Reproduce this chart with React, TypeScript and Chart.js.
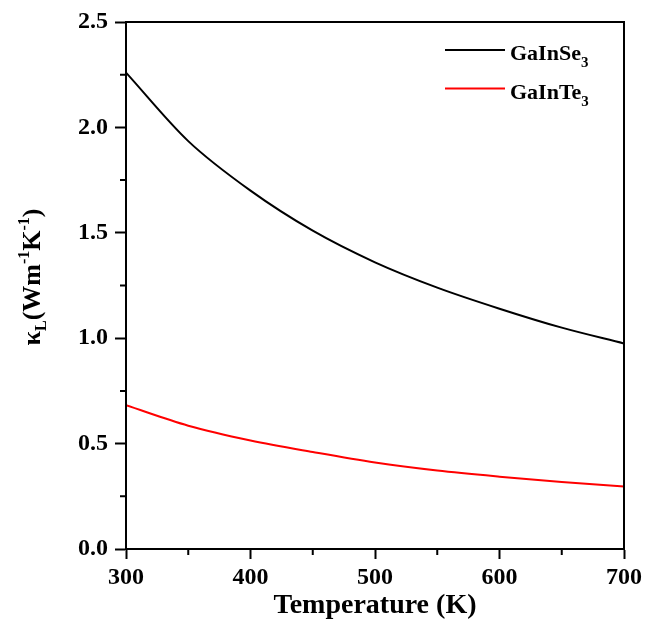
import React, { useEffect, useRef } from "react";
import { Chart, registerables } from "chart.js";

Chart.register(...registerables);

const temperatures = [300, 350, 400, 450, 500, 550, 600, 650, 700];
const kappaSe = [2.26, 1.935, 1.70, 1.51, 1.36, 1.24, 1.14, 1.05, 0.975];
const kappaTe = [0.682, 0.585, 0.515, 0.46, 0.41, 0.372, 0.343, 0.318, 0.297];
const xMinorTicks = [350, 450, 550, 650];
const yMinorTicks = [0.25, 0.75, 1.25, 1.75, 2.25];
const legendNames = ["GaInSe", "GaInTe"];
const legendColors = ["#000000", "#ff0000"];

const SERIF = "'Liberation Serif', 'Times New Roman', serif";

type Part = { t: string; size: number; dy: number };

// draws text pieces with baseline shifts (sub/superscripts) starting at x
function drawRich(ctx: CanvasRenderingContext2D, parts: Part[], x: number, y: number) {
  let cx = x;
  for (const p of parts) {
    ctx.font = `bold ${p.size}px ${SERIF}`;
    ctx.fillText(p.t, cx, y + p.dy);
    cx += ctx.measureText(p.t).width;
  }
  return cx - x;
}
function measureRich(ctx: CanvasRenderingContext2D, parts: Part[]) {
  let w = 0;
  for (const p of parts) {
    ctx.font = `bold ${p.size}px ${SERIF}`;
    w += ctx.measureText(p.t).width;
  }
  return w;
}

const decorPlugin = {
  id: "decor",
  afterDraw(chart: any) {
    const { ctx, chartArea } = chart;
    const xs = chart.scales.x;
    const ys = chart.scales.y;
    ctx.save();
    ctx.strokeStyle = "#000";
    ctx.lineWidth = 2;
    ctx.strokeRect(chartArea.left, chartArea.top, chartArea.right - chartArea.left, chartArea.bottom - chartArea.top);

    // minor ticks
    ctx.beginPath();
    for (const v of xMinorTicks) {
      const px = xs.getPixelForValue(v);
      ctx.moveTo(px, chartArea.bottom);
      ctx.lineTo(px, chartArea.bottom + 6);
    }
    for (const v of yMinorTicks) {
      const py = ys.getPixelForValue(v);
      ctx.moveTo(chartArea.left, py);
      ctx.lineTo(chartArea.left - 6, py);
    }
    ctx.stroke();

    ctx.fillStyle = "#000";
    ctx.textBaseline = "alphabetic";
    ctx.textAlign = "left";

    // legend
    legendNames.forEach((name, i) => {
      const ly = 50 + i * 38.5;
      ctx.strokeStyle = legendColors[i];
      ctx.lineWidth = 2;
      ctx.beginPath();
      ctx.moveTo(445, ly);
      ctx.lineTo(505, ly);
      ctx.stroke();
      drawRich(
        ctx,
        [
          { t: name, size: 22, dy: 0 },
          { t: "3", size: 15, dy: 7 },
        ],
        510,
        ly + 10
      );
    });

    // x axis title
    ctx.font = `bold 28px ${SERIF}`;
    ctx.textAlign = "center";
    ctx.fillText("Temperature (K)", (chartArea.left + chartArea.right) / 2, 613);

    // y axis title
    const parts: Part[] = [
      { t: "\u03ba", size: 26, dy: 0 },
      { t: "L", size: 16, dy: 6 },
      { t: "(Wm", size: 26, dy: 0 },
      { t: "-1", size: 16, dy: -11 },
      { t: "K", size: 26, dy: 0 },
      { t: "-1", size: 16, dy: -11 },
      { t: ")", size: 26, dy: 0 },
    ];
    ctx.textAlign = "left";
    const w = measureRich(ctx, parts);
    ctx.translate(40, 277);
    ctx.rotate(-Math.PI / 2);
    drawRich(ctx, parts, -w / 2, 0);
    ctx.restore();
  },
};

export default function App() {
  const ref = useRef<HTMLCanvasElement>(null);
  useEffect(() => {
    if (!ref.current) return;
    const chart = new Chart(ref.current, {
      type: "line",
      data: {
        labels: temperatures,
        datasets: [
          {
            label: "GaInSe3",
            data: temperatures.map((t, i) => ({ x: t, y: kappaSe[i] })),
            borderColor: legendColors[0],
            borderWidth: 2,
            pointRadius: 0,
            cubicInterpolationMode: "monotone",
            fill: false,
          },
          {
            label: "GaInTe3",
            data: temperatures.map((t, i) => ({ x: t, y: kappaTe[i] })),
            borderColor: legendColors[1],
            borderWidth: 2,
            pointRadius: 0,
            cubicInterpolationMode: "monotone",
            fill: false,
          },
        ],
      },
      options: {
        responsive: false,
        animation: false,
        devicePixelRatio: 1,
        layout: { padding: { top: 22, right: 20, left: 0, bottom: 0 } },
        plugins: { legend: { display: false }, tooltip: { enabled: false } },
        scales: {
          x: {
            type: "linear",
            min: 300,
            max: 700,
            afterFit: (s: any) => {
              s.height = 74;
            },
            ticks: {
              stepSize: 100,
              color: "#000",
              padding: 4,
              maxRotation: 0,
              font: { family: SERIF, size: 24, weight: "bold" },
            },
            grid: {
              drawOnChartArea: false,
              drawTicks: true,
              tickLength: 10,
              tickColor: "#000",
              tickWidth: 2,
            },
            border: { display: true, color: "#000", width: 2 },
          },
          y: {
            type: "linear",
            min: 0,
            max: 2.5,
            afterFit: (s: any) => {
              s.width = 126;
            },
            ticks: {
              stepSize: 0.5,
              color: "#000",
              padding: 7,
              callback: (v: any) => Number(v).toFixed(1),
              font: { family: SERIF, size: 24, weight: "bold" },
            },
            grid: {
              drawOnChartArea: false,
              drawTicks: true,
              tickLength: 11,
              tickColor: "#000",
              tickWidth: 2,
            },
            border: { display: true, color: "#000", width: 2 },
          },
        },
      },
      plugins: [decorPlugin],
    } as any);
    return () => chart.destroy();
  }, []);
  return (
    <div style={{ position: "absolute", left: 0, top: 0, width: 646, height: 623, background: "#fff" }}>
      <canvas ref={ref} width={646} height={623} />
    </div>
  );
}
